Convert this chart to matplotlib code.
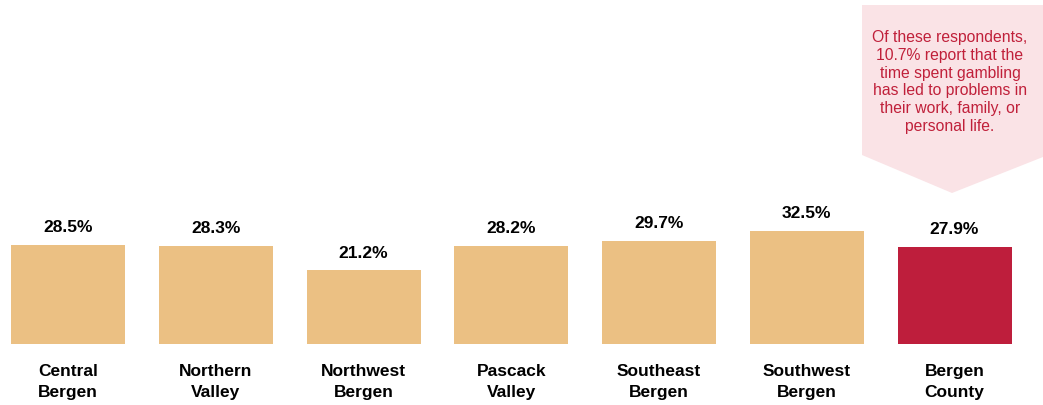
import matplotlib
matplotlib.use("Agg")
import matplotlib.pyplot as plt
from matplotlib.patches import Polygon

# 지역별 데이터
regions = ["Central\nBergen", "Northern\nValley", "Northwest\nBergen", "Pascack\nValley",
           "Southeast\nBergen", "Southwest\nBergen", "Bergen\nCounty"]
values = [28.5, 28.3, 21.2, 28.2, 29.7, 32.5, 27.9]
colors = ["#EBC083"] * 6 + ["#BE1E3C"]
callout = ("Of these respondents,\n10.7% report that the\ntime spent gambling\n"
           "has led to problems in\ntheir work, family, or\npersonal life.")

W, H = 1043, 405
fig = plt.figure(figsize=(W / 100, H / 100), dpi=100)
ax = fig.add_axes([0, 0, 1, 1])

# 픽셀 -> 데이터 스케일 (막대 간격 147.75px, 1% = 3.47px, 기준선 y=344)
step, scale, base = 147.75, 3.47, 344
x0 = 68 / step
ax.set_xlim(-x0, (W - 68) / step)
ax.set_ylim(-(H - base) / scale, base / scale)
ax.axis("off")

font = ["Liberation Sans Narrow", "Liberation Sans", "DejaVu Sans"]
xs = range(len(values))
ax.bar(xs, values, width=114 / step, color=colors)

for x, v, name in zip(xs, values, regions):
    ax.text(x, v + 5, f"{v}%", ha="center", va="center", fontsize=12.5,
            fontweight="bold", family=font)
    ax.text(x, -(37 + 1) / scale, name, ha="center", va="center", fontsize=12.5,
            fontweight="bold", family=font, linespacing=1.5)

# 말풍선 (픽셀 좌표)
to_fig = lambda px, py: (px / W, 1 - py / H)
pts = [to_fig(862, 5), to_fig(1043, 5), to_fig(1043, 157), to_fig(952, 193), to_fig(862, 155)]
fig.patches.append(Polygon(pts, closed=True, transform=fig.transFigure,
                           facecolor="#FAE3E6", edgecolor="none"))
fig.text(950 / W, 1 - 82 / H, callout, ha="center", va="center", fontsize=11.3,
         color="#C0203A", family=["Liberation Sans", "DejaVu Sans"], linespacing=1.22)

fig.savefig("out.png", dpi=100)
